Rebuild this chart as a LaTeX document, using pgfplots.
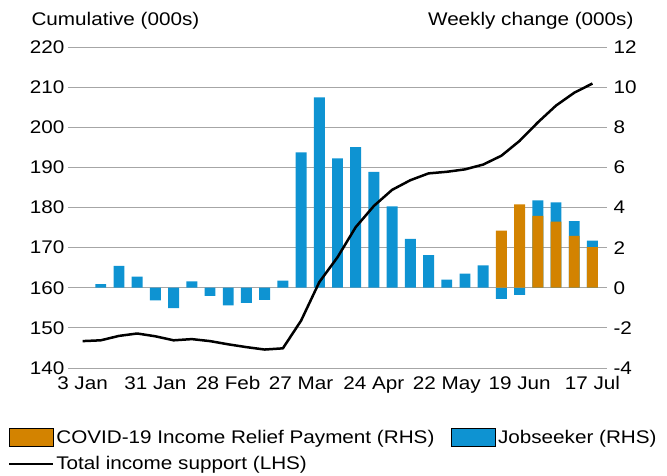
\documentclass[border=0pt]{standalone}
\usepackage{pgfplots}
\pgfplotsset{compat=1.18}
\usepackage{fontspec}
\setmainfont{Liberation Sans}[FakeStretch=1.13]
\definecolor{cblue}{HTML}{0E93D2}
\definecolor{corange}{HTML}{D38300}
\definecolor{cgrid}{HTML}{A6A6A6}
\newcommand\bigfont{\fontsize{18.3}{22}\selectfont}

\begin{document}
\begin{tikzpicture}[font=\bigfont]
\begin{axis}[
  name=ax, scale only axis, width=539pt, height=321pt,
  xmin=-0.8, xmax=28.8, ymin=-4, ymax=12,
  axis line style={draw=none}, tick style={draw=none},
  ytick={-4,-2,...,12}, yticklabels={-4,-2,0,2,4,6,8,10,12},
  yticklabel pos=right,
  yticklabel style={font=\bigfont, xshift=3pt},
  xtick={0,4,...,28},
  xticklabels={3 Jan,31 Jan,28 Feb,27 Mar,24 Apr,22 May,19 Jun,17 Jul},
  xticklabel style={font=\bigfont, yshift=-5pt},
  ymajorgrids, grid style={cgrid, line width=0.9pt},
  legend style={at={(axis description cs:-0.1175,-0.18)}, anchor=north west,
    draw=none, fill=none, legend columns=2, font=\bigfont,
    /tikz/every even column/.append style={column sep=15pt},
    /tikz/every odd row/.append style={row sep=8pt}},
  legend cell align=left,
]
\addlegendimage{legend image code/.code={\draw[fill=corange, draw=black, line width=0.6pt] (0pt,-9pt) rectangle (44pt,9pt);}}
\addlegendentry{COVID-19 Income Relief Payment (RHS)}
\addlegendimage{legend image code/.code={\draw[fill=cblue, draw=black, line width=0.6pt] (0pt,-9pt) rectangle (44pt,9pt);}}
\addlegendentry{Jobseeker (RHS)}
\addlegendimage{legend image code/.code={\draw[black, line width=2.5pt] (0pt,0pt) -- (44pt,0pt);}}
\addlegendentry{Total income support (LHS)}

% Jobseeker (weeks 25-28 plotted as total height, overlaid by COVID payment)
\addplot[ybar, bar width=0.6, bar shift=0pt, fill=cblue, draw=none, forget plot] coordinates {
(1,0.18) (2,1.09) (3,0.56) (4,-0.63) (5,-1.01) (6,0.32) (7,-0.40) (8,-0.88)
(9,-0.76) (10,-0.60) (11,0.36) (12,6.75) (13,9.49) (14,6.45) (15,7.01)
(16,5.77) (17,4.05) (18,2.44) (19,1.63) (20,0.40) (21,0.71) (22,1.11)
(23,-0.56) (24,-0.35) (25,4.36) (26,4.26) (27,3.32) (28,2.35)};
% COVID-19 Income Relief Payment
\addplot[ybar, bar width=0.6, bar shift=0pt, fill=corange, draw=none, forget plot] coordinates {
(23,2.85) (24,4.16) (25,3.58) (26,3.30) (27,2.59) (28,2.02)};
\end{axis}

\begin{axis}[
  scale only axis, width=539pt, height=321pt,
  xmin=-0.8, xmax=28.8, ymin=140, ymax=220,
  axis line style={draw=none}, tick style={draw=none},
  hide x axis,
  ytick={140,150,...,220}, yticklabels={140,150,160,170,180,190,200,210,220},
  yticklabel pos=left,
  yticklabel style={font=\bigfont},
]
\addplot[black, line width=2.5pt, line join=round] coordinates {
(0,146.7) (1,146.9) (2,148.0) (3,148.6) (4,147.9) (5,146.9) (6,147.2)
(7,146.7) (8,145.9) (9,145.2) (10,144.6) (11,144.9) (12,151.8) (13,161.4)
(14,167.6) (15,175.1) (16,180.4) (17,184.4) (18,186.8) (19,188.5) (20,188.9)
(21,189.5) (22,190.7) (23,192.9) (24,196.6) (25,201.2) (26,205.4) (27,208.6)
(28,210.9)};
\end{axis}

\node[anchor=base west] at ([shift={(-40pt,21pt)}]ax.north west) {Cumulative (000s)};
\node[anchor=base east] at ([shift={(30pt,21pt)}]ax.north east) {Weekly change (000s)};

\pgfresetboundingbox
\path ([shift={(-68pt,-108pt)}]ax.south west) rectangle ([shift={(60pt,47pt)}]ax.north east);
\end{tikzpicture}
\end{document}
